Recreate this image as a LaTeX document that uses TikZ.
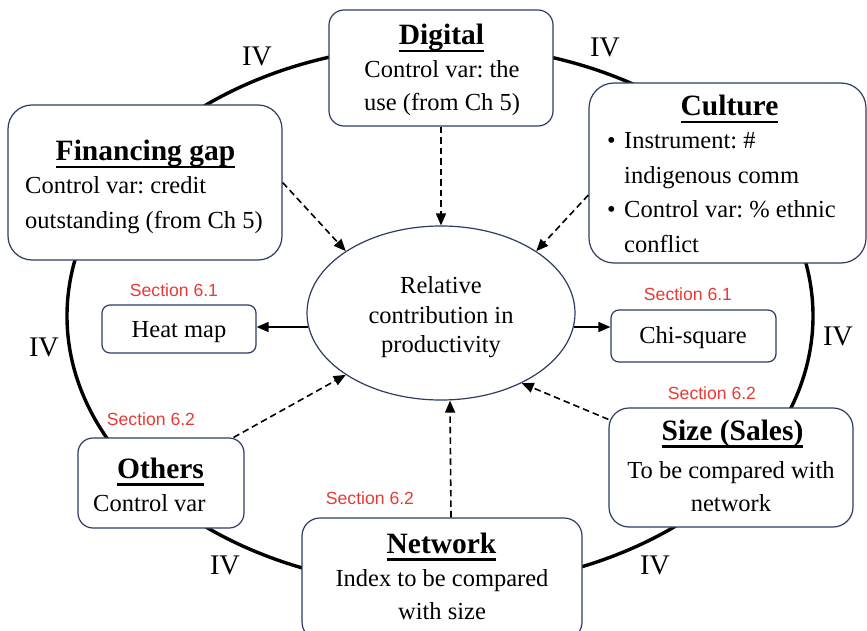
\documentclass[tikz,border=0pt]{standalone}
\usepackage{fontspec}
\setmainfont{Liberation Serif}
\newfontfamily\labelfont{Liberation Sans}
\usetikzlibrary{arrows.meta,calc,shapes.geometric}
\definecolor{boxline}{RGB}{47,60,100}
\definecolor{secred}{RGB}{232,58,52}
\frenchspacing
% bold heading with a thick underline at a fixed depth
\newcommand\headline[1]{\sbox0{\bfseries #1}\rlap{\rule[-7.5pt]{\wd0}{2.6pt}}\usebox0}
\tikzset{
  box/.style={draw=boxline, line width=1.2pt, fill=white, inner sep=0pt},
  head/.style={anchor=base, inner sep=0pt, font=\fontsize{29.5}{34}\selectfont},
  body/.style={anchor=base, inner sep=0pt, font=\fontsize{24.5}{34}\selectfont},
  bodyl/.style={body, anchor=base west},
  sec/.style={anchor=base, inner sep=0pt, text=secred, font=\labelfont\fontsize{17.6}{20}\selectfont},
  ivlab/.style={anchor=base, inner sep=0pt, font=\fontsize{28.4}{30}\selectfont},
  dasharrow/.style={dash pattern=on 6.5pt off 4pt, line width=1.6pt, -{Triangle[length=12pt,width=10pt]}},
  solidarrow/.style={line width=1.6pt, -{Triangle[length=12pt,width=10pt]}},
}
\begin{document}
\begin{tikzpicture}[x=1pt,y=-1pt]
\useasboundingbox (0,0) rectangle (867,631);
\fill[white] (0,0) rectangle (867,631);

% outer ring
\draw[line width=3.4pt] (440,316) ellipse [x radius=373, y radius=271];

% boxes
\node[box, rounded corners=15pt, minimum width=224pt, minimum height=116pt] (dig) at (441,68) {};
\node[box, rounded corners=24pt, minimum width=274pt, minimum height=155pt] (fin) at (145,182.5) {};
\node[box, rounded corners=25pt, minimum width=277pt, minimum height=180pt] (cul) at (727.5,173) {};
\node[box, rounded corners=8pt, minimum width=154pt, minimum height=48pt] (hm) at (179,329) {};
\node[box, rounded corners=8pt, minimum width=165pt, minimum height=52pt] (chi) at (693.5,336) {};
\node[box, rounded corners=15pt, minimum width=166pt, minimum height=90pt] (oth) at (161,483) {};
\node[box, rounded corners=20pt, minimum width=244pt, minimum height=119pt] (siz) at (731,467.5) {};
\node[box, rounded corners=18pt, minimum width=280pt, minimum height=122pt] (net) at (442,579) {};
\node[box, ellipse, minimum width=268pt, minimum height=174pt] (ell) at (441,313) {};

% box texts
\node[head] (digh) at (441.5,45) {\headline{Digital}};
\node[body] (digb1) at (442,78) {Control var: the};
\node[body] (digb2) at (442,111) {use (from Ch 5)};

\node[head] (finh) at (145.5,161) {\headline{Financing gap}};
\node[bodyl] (finb1) at (25,194) {Control var: credit};
\node[bodyl] (finb2) at (25,228) {outstanding (from Ch 5)};

\node[head] (culh) at (729.5,116) {\headline{Culture}};
\node[bodyl] (culb1) at (607,149) {\makebox[17pt][l]{\textbullet}Instrument: \#};
\node[bodyl] (culb2) at (624,184) {indigenous comm};
\node[bodyl] (culb3) at (607,218) {\makebox[17pt][l]{\textbullet}Control var: \% ethnic};
\node[bodyl] (culb4) at (624,252) {conflict};

\node[body] (hmt) at (179,337) {Heat map};
\node[body] (chit) at (693,343) {Chi-square};

\node[head] (othh) at (160.5,478) {\headline{Others}};
\node[bodyl] (othb) at (93,511) {Control var};

\node[head] (sizh) at (732.5,440) {\headline{Size (Sales)}};
\node[body] (sizb1) at (731,478) {To be compared with};
\node[body] (sizb2) at (731,511) {network};

\node[head] (neth) at (441.5,553) {\headline{Network}};
\node[body] (netb1) at (442,586) {Index to be compared};
\node[body] (netb2) at (442,619) {with size};

\node[body] (ell1) at (441,293) {Relative};
\node[body] (ell2) at (441,323) {contribution in};
\node[body] (ell3) at (441,352) {productivity};

% section labels
\node[sec] (s61l) at (174,296) {Section 6.1};
\node[sec] (s62l) at (151,425) {Section 6.2};
\node[sec] (s61r) at (688,300) {Section 6.1};
\node[sec] (s62r) at (712,399) {Section 6.2};
\node[sec] (s62b) at (370,504) {Section 6.2};

% IV labels on the ring
\node[ivlab] (iv1) at (257,66) {IV};
\node[ivlab] (iv2) at (605,57) {IV};
\node[ivlab] (iv3) at (44,356) {IV};
\node[ivlab] (iv4) at (838,345) {IV};
\node[ivlab] (iv5) at (225,574) {IV};
\node[ivlab] (iv6) at (655,574) {IV};

% connectors
\draw[dasharrow] (dig.south) -- (ell.north);
\draw[dasharrow] (fin.east) -- (ell.147);
\draw[dasharrow] ($(cul.west)+(0,22)$) -- (ell.33);
\draw[dasharrow] ($(oth.north east)+(-11,0)$) -- (ell.-147);
\draw[dasharrow] ($(net.north)+(9,0)$) -- ($(ell.south)+(9,0)$);
\draw[dasharrow] ($(siz.north west)+(0,12)$) -- (ell.-41);
\draw[solidarrow] ($(ell.west)+(1.5,14)$) -- ($(hm.east)+(0,-2)$);
\draw[solidarrow] ($(ell.east)+(-1.5,14)$) -- ($(chi.west)+(0,-9)$);
\end{tikzpicture}
\end{document}
